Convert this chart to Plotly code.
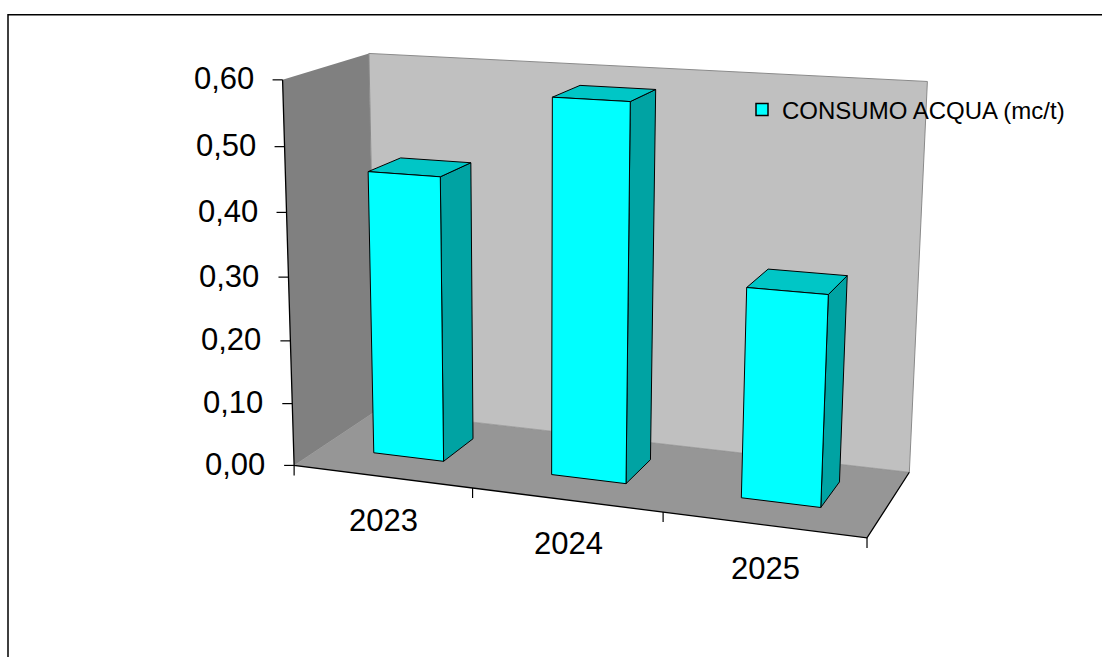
import numpy as np
import plotly.graph_objects as go

# ---------------- data ----------------
categories = ["2023", "2024", "2025"]
values = [0.45, 0.58, 0.32]
y_ticks = [0.0, 0.1, 0.2, 0.3, 0.4, 0.5, 0.6]
y_tick_labels = ["0,00", "0,10", "0,20", "0,30", "0,40", "0,50", "0,60"]
series_name = "CONSUMO ACQUA (mc/t)"

# ---------------- layout / style ----------------
W, H = 1102, 657
Y_MAX = 0.6
N = len(categories)
FONT = "Liberation Sans, Arial, sans-serif"
C_FRONT, C_SIDE, C_TOP = "#00FFFF", "#00A3A3", "#00C6C6"
C_LEFTWALL, C_BACKWALL, C_FLOOR = "#808080", "#C0C0C0", "#969696"

# perspective camera calibrated on the chart frame (category units, value, depth)
calib_world = [(0, 0, 0), (1, 0, 0), (2, 0, 0), (3, 0, 0), (0, 0, 1), (3, 0, 1),
               (0, 0.6, 1), (3, 0.6, 1), (0, 0.6, 0), (0, 0.3, 0)]
calib_px = [(296.7, 463.3), (473.3, 488), (662.7, 513.3), (866.7, 539.3), (373, 413),
            (910, 470), (371.7, 53.3), (927, 81.7), (280, 80), (288.3, 276.7)]
rows = []
for (X, Yv, Z), (u, v) in zip(calib_world, calib_px):
    w = [X, Yv / Y_MAX, Z, 1.0]
    u, v = u / 1000, v / 1000
    rows.append(w + [0, 0, 0, 0] + [-u * t for t in w])
    rows.append([0, 0, 0, 0] + w + [-v * t for t in w])
_, _, Vt = np.linalg.svd(np.array(rows))
P = Vt[-1].reshape(3, 4)


def proj(X, Yv, Z):
    p = P @ np.array([X, Yv / Y_MAX, Z, 1.0])
    return p[0] / p[2] * 1000, p[1] / p[2] * 1000


fig = go.Figure()


def poly(pts, fill, line_color=None, lw=0):
    xy = [proj(*p) for p in pts]
    xs = [a for a, _ in xy] + [xy[0][0]]
    ys = [b for _, b in xy] + [xy[0][1]]
    if lw > 0:
        fig.add_trace(go.Scatter(x=xs, y=ys, mode="lines", fill="toself", fillcolor=fill,
                                 line=dict(color=line_color, width=lw),
                                 hoverinfo="skip", showlegend=False))
    else:
        fig.add_trace(go.Scatter(x=xs, y=ys, mode="none", fill="toself", fillcolor=fill,
                                 hoverinfo="skip", showlegend=False))


def seg(pts, color, lw):
    xy = [proj(*p) for p in pts]
    fig.add_trace(go.Scatter(x=[a for a, _ in xy], y=[b for _, b in xy], mode="lines",
                             line=dict(color=color, width=lw), hoverinfo="skip",
                             showlegend=False))


# walls and floor
poly([(0, 0, 0), (0, Y_MAX, 0), (0, Y_MAX, 1), (0, 0, 1)], C_LEFTWALL)
poly([(0, 0, 1), (N, 0, 1), (N, Y_MAX, 1), (0, Y_MAX, 1)], C_BACKWALL)
poly([(0, 0, 0), (N, 0, 0), (N, 0, 1), (0, 0, 1)], C_FLOOR)
seg([(0, 0, 1), (0, Y_MAX, 1), (N, Y_MAX, 1), (N, 0, 1)], "#8a8a8a", 1)
seg([(0, 0, 0), (0, 0, 1), (N, 0, 1)], "#8a8a8a", 0.6)
seg([(0, Y_MAX, 0), (0, 0, 0), (N, 0, 0), (N, 0, 1)], "black", 1.3)

# ticks
tx, ty = [], []
for v in y_ticks:
    px, py = proj(0, v, 0)
    tx += [px - 10, px, None]
    ty += [py, py, None]
for i in range(N + 1):
    px, py = proj(i, 0, 0)
    tx += [px, px, None]
    ty += [py, py + 10, None]
fig.add_trace(go.Scatter(x=tx, y=ty, mode="lines", line=dict(color="black", width=1.2),
                         hoverinfo="skip", showlegend=False))

# bars (width / depth as fractions of a category cell)
X0, X1, Z0, Z1 = 0.3, 0.7, 0.33, 0.73
for i, val in enumerate(values):
    x0, x1 = i + X0, i + X1
    poly([(x1, 0, Z0), (x1, 0, Z1), (x1, val, Z1), (x1, val, Z0)], C_SIDE, "black", 1)
    poly([(x0, val, Z0), (x1, val, Z0), (x1, val, Z1), (x0, val, Z1)], C_TOP, "black", 1)
    poly([(x0, 0, Z0), (x1, 0, Z0), (x1, val, Z0), (x0, val, Z0)], C_FRONT, "black", 1)

# legend entry
fig.add_trace(go.Scatter(x=[None], y=[None], mode="markers", name=series_name,
                         marker=dict(symbol="square", size=12, color=C_FRONT,
                                     line=dict(color="black", width=1.5))))

annotations = []
for v, lab in zip(y_ticks, y_tick_labels):
    px, py = proj(0, v, 0)
    annotations.append(dict(x=px, y=py, text=lab, showarrow=False, xanchor="right",
                            yanchor="middle", xshift=-27, yshift=1,
                            font=dict(family=FONT, size=31, color="black")))
for i, lab in enumerate(categories):
    px, py = proj(i + 0.5, 0, 0)
    annotations.append(dict(x=px, y=py, text=lab, showarrow=False, xanchor="center",
                            yanchor="middle", xshift=2, yshift=-44,
                            font=dict(family=FONT, size=31, color="black")))

fig.update_layout(
    width=W, height=H, margin=dict(l=0, r=0, t=0, b=0, pad=0),
    paper_bgcolor="white", plot_bgcolor="white",
    xaxis=dict(range=[0, W], visible=False, fixedrange=True),
    yaxis=dict(range=[H, 0], visible=False, fixedrange=True),
    showlegend=True,
    legend=dict(x=742 / W, y=1 - 110 / H, xanchor="left", yanchor="middle",
                bgcolor="rgba(0,0,0,0)", borderwidth=0,
                font=dict(family=FONT, size=24, color="black")),
    annotations=annotations,
    shapes=[dict(type="rect", xref="x", yref="y", x0=8, y0=14.7, x1=1120, y1=680,
                 line=dict(color="black", width=1.5), fillcolor="rgba(0,0,0,0)", layer="above")],
)

fig.write_html("out.html", config={"displayModeBar": False},
               post_script="document.body.style.margin='0';document.body.style.overflow='hidden';")
